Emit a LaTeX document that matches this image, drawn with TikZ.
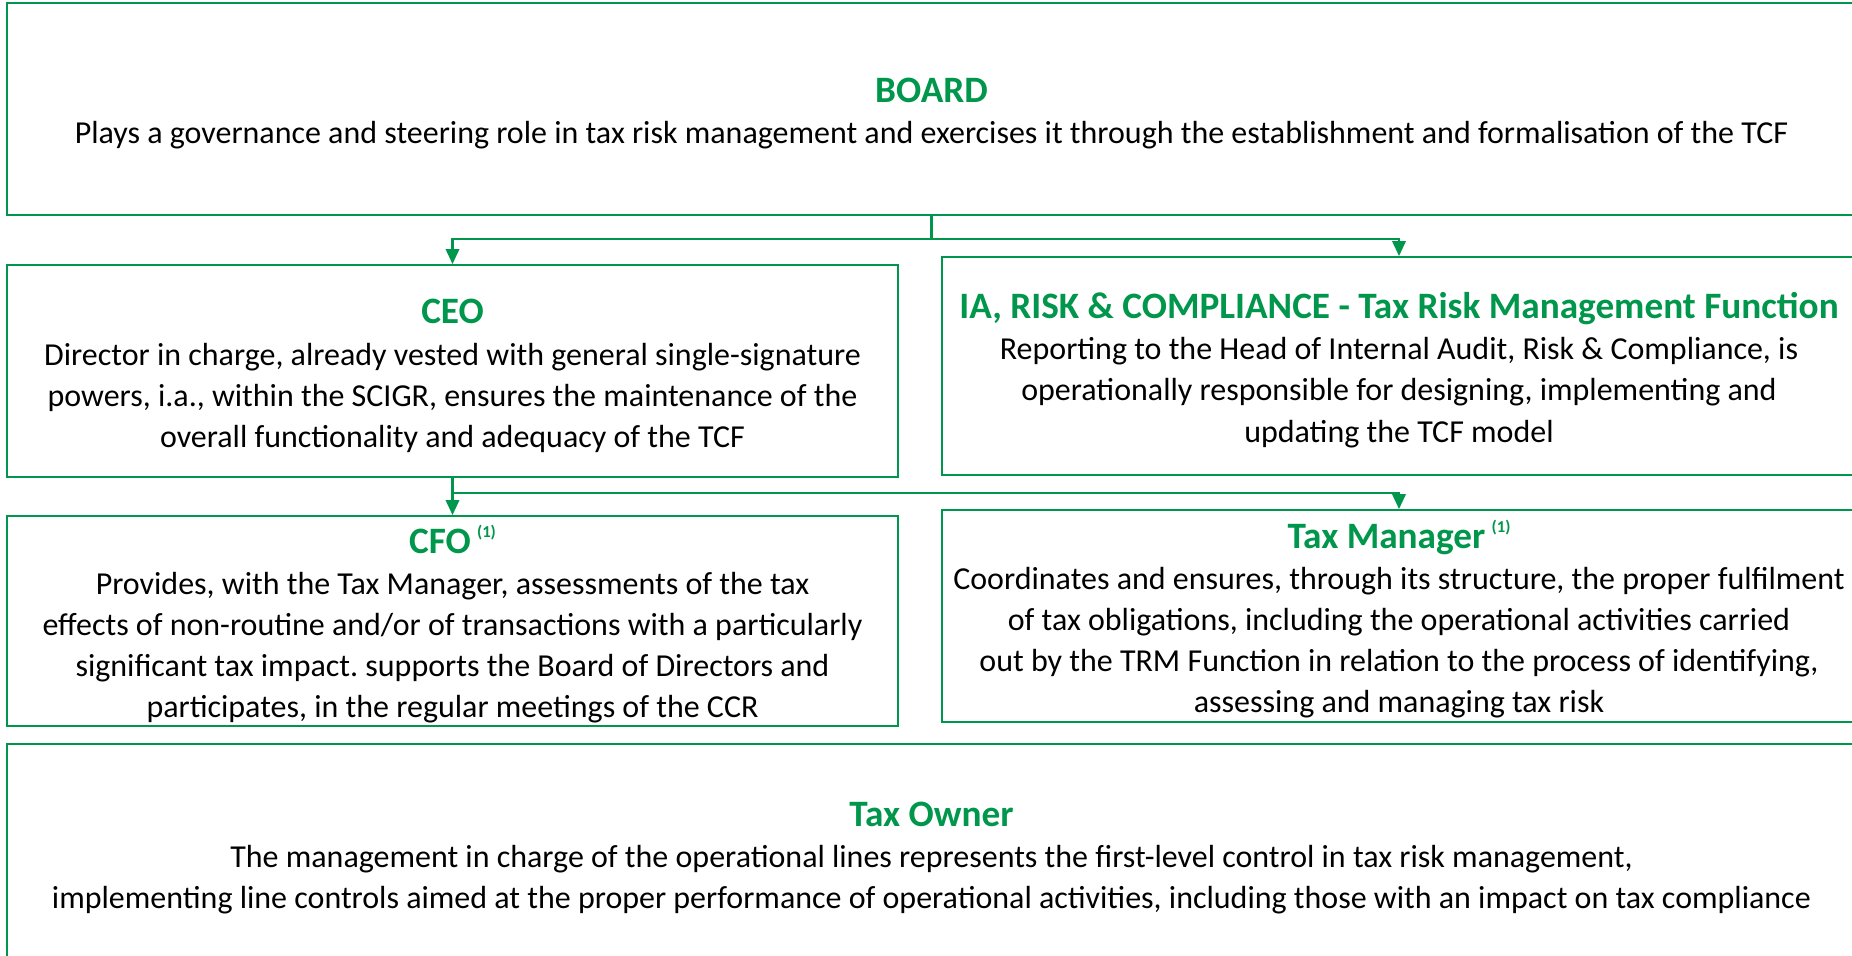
\documentclass[tikz,border=0pt]{standalone}
\usepackage{fontspec}
\setmainfont{Carlito}
\usepackage{xcolor}
\usepackage{tikz}
\usetikzlibrary{positioning,arrows.meta}
\definecolor{mygreen}{RGB}{0,150,75}
\newcommand{\boxtitle}[1]{{\fontsize{21.2}{23}\selectfont\bfseries\color{mygreen}\rule{0pt}{19.5pt}#1}}
\newcommand{\fnote}{\,\raisebox{0.85ex}{\fontsize{9.5}{9.5}\selectfont(1)}}
\frenchspacing

\begin{document}
\begin{tikzpicture}[
    box/.style={draw=mygreen, line width=1.1pt, align=center, inner sep=0pt,
      font=\fontsize{18.2}{23.4}\selectfont},
    link/.style={draw=mygreen, line width=1.2pt, -{Triangle[length=0.3cm, width=0.27cm]}}]
        \useasboundingbox (0,0) rectangle (37.04,-19.10);
        \node[box, minimum width=36.98cm, minimum height=4.23cm] (board) at (18.63,-2.18)
          {\boxtitle{BOARD}\\ Plays a governance and steering role in tax risk management and exercises it through the establishment and formalisation of the TCF};
        \node[box, minimum width=17.82cm, minimum height=4.24cm] (ceo) at (9.05,-7.42)
          {\boxtitle{CEO}\\ Director in charge, already vested with general single-signature\\ powers, i.a., within the SCIGR, ensures the maintenance of the\\ overall functionality and adequacy of the TCF};
        \node[box, minimum width=18.28cm, minimum height=4.36cm] (ia) at (27.98,-7.32)
          {\boxtitle{IA, RISK \& COMPLIANCE - Tax Risk Management Function}\\ Reporting to the Head of Internal Audit, Risk \& Compliance, is\\ operationally responsible for designing, implementing and\\ updating the TCF model};
        \node[box, minimum width=17.82cm, minimum height=4.2cm] (cfo) at (9.05,-12.42)
          {\boxtitle{CFO\fnote}\\ Provides, with the Tax Manager, assessments of the tax\\ effects of non-routine and/or of transactions with a particularly\\ significant tax impact. supports the Board of Directors and\\ participates, in the regular meetings of the CCR};
        \node[box, minimum width=18.28cm, minimum height=4.24cm] (tm) at (27.98,-12.32)
          {\boxtitle{Tax Manager\fnote}\\ Coordinates and ensures, through its structure, the proper fulfilment\\ of tax obligations, including the operational activities carried\\ out by the TRM Function in relation to the process of identifying,\\ assessing and managing tax risk};
        \node[box, minimum width=36.98cm, minimum height=4.36cm] (owner) at (18.63,-17.06)
          {\boxtitle{Tax Owner}\\ The management in charge of the operational lines represents the first-level control in tax risk management,\\ implementing line controls aimed at the proper performance of operational activities, including those with an impact on tax compliance};
        \coordinate[below=0.46cm of board.south] (bj);
        \coordinate[below=0.3cm of ceo.south] (cj);
        \draw[link] (board.south) -- (bj) -| (ceo.north);
        \draw[link] (bj) -| (ia.north);
        \draw[link] (ceo.south) -- (cfo.north);
        \draw[link] (ceo.south) -- (cj) -| (tm.north);
  \end{tikzpicture}
\end{document}
